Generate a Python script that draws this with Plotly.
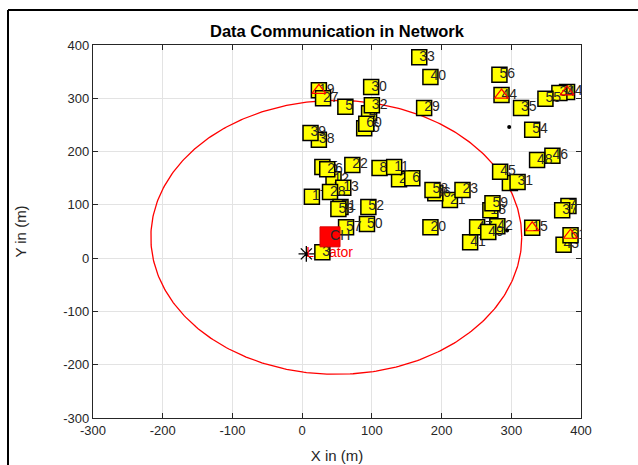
import plotly.graph_objects as go
import numpy as np

# ---- data ----
node_labels = ["33", "40", "30", "19", "27", "5", "32", "4", "60", "16", "39", "38", "29",
               "56", "44", "35", "55", "54", "34", "14",
               "25", "26", "22", "8", "11", "2", "6", "12", "13", "28", "17", "51", "53",
               "52", "57", "50", "3",
               "58", "36", "21", "23", "20", "48", "46", "45", "24", "31", "59", "18",
               "47", "42", "49", "41", "15", "7", "37", "61", "43"]
node_x = [168, 184, 99, 24, 30, 62, 100, 96, 92, 89, 12, 24, 175,
          283, 286, 314, 349, 330, 369, 380,
          29, 36, 72, 111, 132, 139, 158, 45, 59, 40, 14, 55, 52,
          95, 63, 93, 29,
          187, 191, 212, 230, 184, 337, 359, 284, 298, 309, 273, 270,
          251, 280, 267, 241, 330, 382, 373, 385, 375]
node_y = [377, 340, 321, 315, 300, 284, 287, 272, 252, 244, 235, 222, 282,
          344, 306, 282, 299, 241, 310, 312,
          171, 167, 175, 169, 171, 148, 150, 148, 132, 124, 115, 96, 92,
          96, 58, 64, 11,
          128, 122, 109, 128, 58, 184, 192, 162, 141, 143, 103, 90,
          58, 60, 49, 30, 57, 98, 90, 43, 25]
# nodes flagged with a red triangle
flag_labels = ["19", "44", "14", "15", "61"]
# small black points
dot_x = [297, 294]
dot_y = [246, 52]
# cluster head and locator
ch_x, ch_y = [40], [40]
loc_x, loc_y = [6], [8]
# communication range
range_cx, range_cy = 49, 39
range_rx, range_ry = 266, 257

x_ticks = [-300, -200, -100, 0, 100, 200, 300, 400]
y_ticks = [-300, -200, -100, 0, 100, 200, 300, 400]
tick_text = ["-300", "-200", "-100", "0", "100", "200", "300", "400"]

FONT = "Liberation Sans, Arial, sans-serif"
TXT = "#262626"

fig = go.Figure()

# range circle
t = np.linspace(0, 2 * np.pi, 400)
fig.add_trace(go.Scatter(x=range_cx + range_rx * np.cos(t), y=range_cy + range_ry * np.sin(t),
                         mode="lines", line=dict(color="#ff0000", width=1.3),
                         hoverinfo="skip", showlegend=False))

# locator marker + text (drawn before nodes)
fig.add_trace(go.Scatter(x=loc_x, y=loc_y, mode="markers",
                         marker=dict(symbol="asterisk-open", size=13, color="#000000",
                                     line=dict(color="#000000", width=1.3)),
                         showlegend=False))
fig.add_trace(go.Scatter(x=loc_x, y=loc_y, mode="text", text=["Locator"],
                         textposition="middle right",
                         textfont=dict(family=FONT, size=14, color="#ff0000"),
                         showlegend=False))

# nodes in numeric order: square, then its label
order = sorted(range(len(node_labels)), key=lambda i: int(node_labels[i]))
for i in order:
    fig.add_trace(go.Scatter(x=[node_x[i]], y=[node_y[i]], mode="markers",
                             marker=dict(symbol="square", size=15, color="#ffff00",
                                         line=dict(color="#000000", width=1.5)),
                             showlegend=False))
    fig.add_trace(go.Scatter(x=[node_x[i]], y=[node_y[i]], mode="text", text=[node_labels[i]],
                             textposition="middle right",
                             textfont=dict(family=FONT, size=14, color=TXT),
                             showlegend=False))

# flagged triangles
fx = [node_x[node_labels.index(l)] for l in flag_labels]
fy = [node_y[node_labels.index(l)] for l in flag_labels]
fig.add_trace(go.Scatter(x=fx, y=fy, mode="markers",
                         marker=dict(symbol="triangle-up-open", size=12, color="#ff0000",
                                     line=dict(color="#ff0000", width=1.2)),
                         showlegend=False))

# dots
fig.add_trace(go.Scatter(x=dot_x, y=dot_y, mode="markers",
                         marker=dict(size=4, color="#000000"), showlegend=False))

# CH
fig.add_trace(go.Scatter(x=ch_x, y=ch_y, mode="markers",
                         marker=dict(symbol="square", size=20, color="#ff0000",
                                     line=dict(color="#dd0000", width=1)),
                         showlegend=False))
fig.add_trace(go.Scatter(x=ch_x, y=ch_y, mode="text", text=["CH"],
                         textposition="middle right",
                         textfont=dict(family=FONT, size=14, color=TXT),
                         showlegend=False))

axis_common = dict(showgrid=True, gridcolor="#e3e3e3", gridwidth=1, zeroline=False,
                   showline=True, linecolor="#262626", linewidth=1.2, mirror="ticks",
                   ticks="inside", ticklen=5, tickcolor="#262626", tickwidth=1.2,
                   automargin=False,
                   tickfont=dict(family=FONT, size=13, color=TXT))

fig.update_layout(
    width=638, height=465,
    margin=dict(l=93, r=57, t=45, b=47),
    paper_bgcolor="white", plot_bgcolor="white",
    title=dict(text="<b>Data Communication in Network</b>", x=0.5, xref="paper",
               xanchor="center", y=1 - 31 / 465, yanchor="middle",
               font=dict(family=FONT, size=16.5, color="#000000")),
    xaxis=dict(range=[-300, 400], tickvals=x_ticks, ticktext=tick_text,
               title=dict(text="X in (m)", font=dict(family=FONT, size=15, color=TXT), standoff=13),
               **axis_common),
    yaxis=dict(range=[-300, 400], tickvals=y_ticks, ticktext=tick_text,
               title=dict(text="Y in (m)", font=dict(family=FONT, size=15, color=TXT), standoff=33),
               **axis_common),
    shapes=[
        dict(type="line", xref="paper", yref="paper", x0=(8 - 93) / 488, x1=(8 - 93) / 488,
             y0=(418 - 10) / 373, y1=(418 - 470) / 373, line=dict(color="#000000", width=2)),
        dict(type="line", xref="paper", yref="paper", x0=(8 - 93) / 488, x1=(640 - 93) / 488,
             y0=(418 - 10) / 373, y1=(418 - 10) / 373, line=dict(color="#000000", width=2)),
    ],
)

fig.write_html("out.html")
